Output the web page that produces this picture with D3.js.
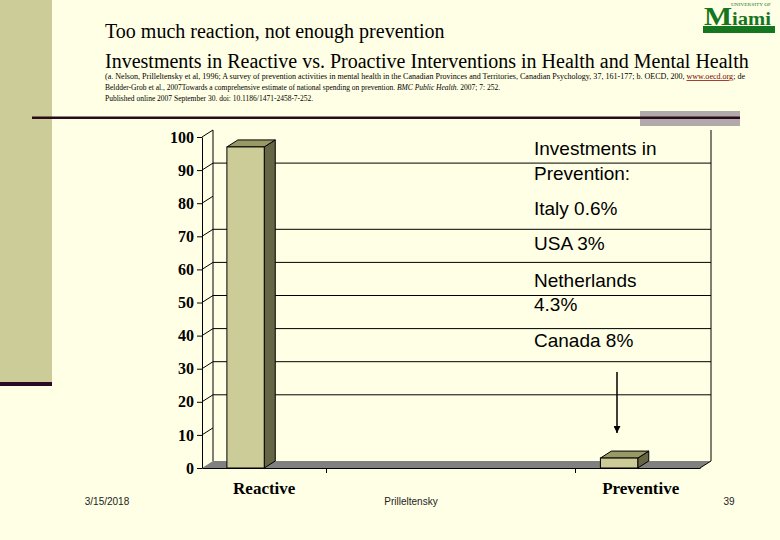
<!DOCTYPE html>
<html>
<head>
  <meta charset='utf-8'>
  <title>Too much reaction, not enough prevention</title>
  <script src='https://cdn.jsdelivr.net/npm/d3@7/dist/d3.min.js'></script>
  <style type='text/css'>
    body { margin: 0; background: #ffffe5; }
    svg { display: block; }
  </style>
</head>
<body>
  <div id='plot-container'></div>
  <script>
    // chart data
    const categories = ['Reactive', ' ', '  ', 'Preventive'];
    const values = [97, null, null, 3];
    const axisCategories = ['Reactive', 'Preventive'];
    const yTicks = [0, 10, 20, 30, 40, 50, 60, 70, 80, 90, 100];
    const gridValues = [20, 30, 40, 50, 60, 70, 90];
    const titleLines = [
        'Too much reaction, not enough prevention',
        'Investments in Reactive vs. Proactive Interventions in Health and Mental Health'
    ];
    const noteLines = [
        'Beldder-Grob et al., 2007Towards a comprehensive estimate of national spending on prevention. ',
        'Published online 2007 September 30. doi: 10.1186/1471-2458-7-252.'
    ];
    const boxLines = [
        { text: 'Investments in', y: 155 },
        { text: 'Prevention:', y: 180 },
        { text: 'Italy 0.6%', y: 215 },
        { text: 'USA 3%', y: 250 },
        { text: 'Netherlands', y: 287 },
        { text: '4.3%', y: 311 },
        { text: 'Canada 8%', y: 347 }
    ];

    const svg = d3.select('#plot-container').append('svg')
        .attr('width', 780)
        .attr('height', 540);

    // slide decoration
    svg.append('rect').attr('x', 0).attr('y', 0)
        .attr('width', 52).attr('height', 382).attr('fill', '#cccc99');
    svg.append('rect').attr('x', 0).attr('y', 382)
        .attr('width', 52).attr('height', 4).attr('fill', '#2a0a24');
    svg.append('rect').attr('x', 640).attr('y', 111)
        .attr('width', 100).attr('height', 15).attr('fill', '#b2aaaa');
    svg.append('rect').attr('x', 32).attr('y', 116.5)
        .attr('width', 708).attr('height', 2.5).attr('fill', '#2a0a1a');

    // logo
    const logo = svg.append('text').attr('x', 704).attr('y', 25)
        .attr('textLength', 67).attr('lengthAdjust', 'spacingAndGlyphs')
        .style('font-family', '"Liberation Serif"').style('font-weight', 'bold')
        .style('fill', '#16751f');
    logo.append('tspan').style('font-size', '26px').text('M');
    logo.append('tspan').style('font-size', '18px').text('iami');
    svg.append('text').attr('x', 731).attr('y', 6)
        .attr('textLength', 40).attr('lengthAdjust', 'spacingAndGlyphs')
        .style('font', '5px "Liberation Serif"').style('fill', '#16751f')
        .text('UNIVERSITY OF');
    svg.append('rect').attr('x', 703).attr('y', 26)
        .attr('width', 72).attr('height', 7).attr('fill', '#16751f');

    // titles
    svg.selectAll('.title').data(titleLines).enter().append('text')
        .attr('class', 'title')
        .attr('x', 105)
        .attr('y', (d, i) => 38 + i * 30)
        .style('font', '20px "Liberation Serif"')
        .style('fill', '#000')
        .text(d => d);

    const note1 = svg.append('text').attr('x', 105).attr('y', 79)
        .attr('textLength', 640).attr('lengthAdjust', 'spacingAndGlyphs')
        .style('font', '7.5px "Liberation Serif"');
    note1.append('tspan').text('(a. Nelson, Prilleltensky et al, 1996; A survey of prevention activities in mental health in the Canadian Provinces and Territories, Canadian Psychology, 37, 161-177; b. OECD, 200, ');
    note1.append('tspan').style('fill', '#800000').style('text-decoration', 'underline').text('www.oecd.org');
    note1.append('tspan').text('; de');
    const note2 = svg.append('text').attr('x', 105).attr('y', 90)
        .style('font', '7.5px "Liberation Serif"');
    note2.append('tspan').text(noteLines[0]);
    note2.append('tspan').style('font-style', 'italic').text('BMC Public Health. ');
    note2.append('tspan').text('2007; 7: 252.');
    svg.append('text').attr('x', 105).attr('y', 101)
        .style('font', '7.5px "Liberation Serif"')
        .text(noteLines[1]);

    // plot area with 3D depth
    const plotLeft = 202, plotRight = 700, plotTop = 137, plotBottom = 468;
    const dx = 11, dy = -7;
    const x = d3.scaleBand().domain(categories).range([plotLeft, plotRight]);
    const xTick = d3.scaleBand().domain(axisCategories).range([plotLeft, plotRight]);
    const y = d3.scaleLinear().domain([0, 100]).range([plotBottom, plotTop]);
    const g = svg.append('g');

    // back wall
    g.selectAll('.grid').data(gridValues).enter().append('line')
        .attr('x1', plotLeft + dx).attr('x2', plotRight + dx)
        .attr('y1', d => y(d) + dy).attr('y2', d => y(d) + dy)
        .attr('stroke', '#000').attr('stroke-width', 1);
    g.append('line').attr('x1', plotLeft + dx).attr('x2', plotLeft + dx)
        .attr('y1', plotTop + dy).attr('y2', plotBottom + dy).attr('stroke', '#000');
    g.append('line').attr('x1', plotRight + dx).attr('x2', plotRight + dx)
        .attr('y1', plotTop + dy).attr('y2', plotBottom + dy).attr('stroke', '#000');

    // floor
    g.append('polygon')
        .attr('points', [[plotLeft, plotBottom], [plotRight, plotBottom],
            [plotRight + dx, plotBottom + dy], [plotLeft + dx, plotBottom + dy]].join(' '))
        .attr('fill', '#808080');
    g.append('line').attr('x1', plotRight).attr('y1', plotBottom)
        .attr('x2', plotRight + dx).attr('y2', plotBottom + dy).attr('stroke', '#000');

    // left wall
    g.selectAll('.wall').data(yTicks.filter(d => d > 0)).enter().append('line')
        .attr('x1', plotLeft).attr('x2', plotLeft + dx)
        .attr('y1', d => y(d)).attr('y2', d => y(d) + dy)
        .attr('stroke', '#000');

    // axes
    const yAxis = g.append('g')
        .attr('transform', `translate(${plotLeft}, 0)`)
        .call(d3.axisLeft(y).tickValues(yTicks).tickSize(5).tickSizeOuter(0).tickPadding(3));
    yAxis.selectAll('text')
        .style('font', 'bold 16px "Liberation Serif"').style('fill', '#000');
    yAxis.selectAll('line, path').attr('stroke', '#000');

    const xAxis = g.append('g')
        .attr('transform', `translate(0, ${plotBottom})`)
        .call(d3.axisBottom(xTick).tickSize(5).tickSizeOuter(0).tickFormat(''));
    xAxis.selectAll('line, path').attr('stroke', '#000');

    g.selectAll('.xlabel').data(categories.filter((c, i) => values[i] != null))
        .enter().append('text')
        .attr('x', d => x(d) + x.bandwidth() / 2 + (d === 'Preventive' ? 3 : 0))
        .attr('y', 494)
        .attr('text-anchor', 'middle')
        .style('font', 'bold 17px "Liberation Serif"')
        .text(d => d);

    // 3D bars
    const bars = categories.map((c, i) => ({ c: c, v: values[i] })).filter(d => d.v != null);
    const bw = x.bandwidth() * 0.3;
    const bx = d => x(d.c) + x.bandwidth() * 0.2;
    const barG = g.selectAll('.bar').data(bars).enter().append('g');
    barG.append('polygon')
        .attr('points', d => [[bx(d) + bw, y(d.v)], [bx(d) + bw + dx, y(d.v) + dy],
            [bx(d) + bw + dx, plotBottom + dy], [bx(d) + bw, plotBottom]].join(' '))
        .attr('fill', '#666644').attr('stroke', '#000');
    barG.append('polygon')
        .attr('points', d => [[bx(d), y(d.v)], [bx(d) + dx, y(d.v) + dy],
            [bx(d) + bw + dx, y(d.v) + dy], [bx(d) + bw, y(d.v)]].join(' '))
        .attr('fill', '#999966').attr('stroke', '#000');
    barG.append('rect')
        .attr('x', bx).attr('y', d => y(d.v))
        .attr('width', bw).attr('height', d => plotBottom - y(d.v))
        .attr('fill', '#cccc99').attr('stroke', '#000');

    // text box
    svg.selectAll('.box').data(boxLines).enter().append('text')
        .attr('x', 534).attr('y', d => d.y)
        .style('font', '19px "Liberation Sans"')
        .text(d => d.text);

    // arrow
    svg.append('defs').append('marker')
        .attr('id', 'head').attr('viewBox', '0 0 10 10')
        .attr('refX', 10).attr('refY', 5)
        .attr('markerWidth', 7).attr('markerHeight', 7)
        .attr('markerUnits', 'userSpaceOnUse')
        .attr('orient', 'auto')
        .append('path').attr('d', 'M0,0L10,5L0,10z').attr('fill', '#000');
    svg.append('line').attr('x1', 617).attr('y1', 372)
        .attr('x2', 617).attr('y2', 433)
        .attr('stroke', '#000').attr('stroke-width', 1.5)
        .attr('marker-end', 'url(#head)');

    // footer
    const footer = [
        { text: '3/15/2018', x: 107 },
        { text: 'Prilleltensky', x: 411 },
        { text: '39', x: 729 }
    ];
    svg.selectAll('.foot').data(footer).enter().append('text')
        .attr('x', d => d.x).attr('y', 505)
        .attr('text-anchor', 'middle')
        .style('font', '10px "Liberation Sans"')
        .style('fill', '#222')
        .text(d => d.text);
  </script>
</body>
</html>
